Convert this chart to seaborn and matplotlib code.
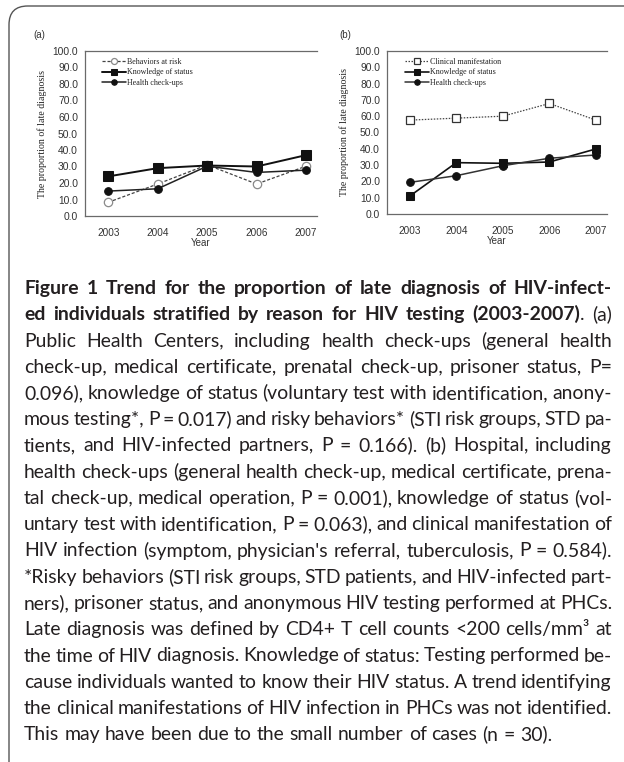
import matplotlib
matplotlib.use("Agg")
import matplotlib.pyplot as plt
import seaborn as sns
import numpy as np
import pandas as pd
from matplotlib.patches import FancyBboxPatch
from matplotlib.ticker import FixedLocator, FormatStrFormatter

# ---------------- data ----------------
years = [2003, 2004, 2005, 2006, 2007]
y_ticks = [0, 10, 20, 30, 40, 50, 60, 70, 80, 90, 100]

a_labels = ["Behaviors at risk", "Knowledge of status", "Health check-ups"]
a_behaviors = [8.3, 19.4, 31.0, 19.4, 30.2]
a_knowledge = [24.0, 29.0, 30.6, 30.0, 36.9]
a_health = [15.1, 16.5, 30.2, 26.4, 27.8]

b_labels = ["Clinical manifestation", "Knowledge of status", "Health check-ups"]
b_clinical = [57.6, 58.8, 60.0, 67.8, 57.6]
b_knowledge = [11.0, 31.5, 31.1, 31.9, 39.9]
b_health = [19.4, 23.5, 29.6, 34.2, 36.2]

y_label = "The proportion of late diagnosis"
x_label = "Year"

caption_lines = [
    [("Figure 1 Trend for the proportion of late diagnosis of HIV-infect-", "bold")],
    [("ed individuals stratified by reason for HIV testing (2003-2007)", "bold"), (". (a)", "normal")],
    [("Public Health Centers, including health check-ups (general health", "normal")],
    [("check-up, medical certificate, prenatal check-up, prisoner status, P=", "normal")],
    [("0.096), knowledge of status (voluntary test with identification, anony-", "normal")],
    [("mous testing*, P = 0.017) and risky behaviors* (STI risk groups, STD pa-", "normal")],
    [("tients, and HIV-infected partners, P = 0.166). (b) Hospital, including", "normal")],
    [("health check-ups (general health check-up, medical certificate, prena-", "normal")],
    [("tal check-up, medical operation, P = 0.001), knowledge of status (vol-", "normal")],
    [("untary test with identification, P = 0.063), and clinical manifestation of", "normal")],
    [("HIV infection (symptom, physician's referral, tuberculosis, P = 0.584).", "normal")],
    [("*Risky behaviors (STI risk groups, STD patients, and HIV-infected part-", "normal")],
    [("ners), prisoner status, and anonymous HIV testing performed at PHCs.", "normal")],
    [("Late diagnosis was defined by CD4+ T cell counts <200 cells/mm\u00b3 at", "normal")],
    [("the time of HIV diagnosis. Knowledge of status: Testing performed be-", "normal")],
    [("cause individuals wanted to know their HIV status. A trend identifying", "normal")],
    [("the clinical manifestations of HIV infection in PHCs was not identified.", "normal")],
    [("This may have been due to the small number of cases (n = 30).", "normal")],
]

# ---------------- figure ----------------
sns.set_style("white")
plt.rcParams["font.family"] = ["Liberation Sans", "DejaVu Sans"]

W, H = 624, 762
fig = plt.figure(figsize=(W / 100, H / 100), dpi=100)
fig.patch.set_facecolor("white")


def fx(px):
    return px / W


def fy(py):
    return 1 - py / H


def make_axes(left, right, top, bottom):
    return fig.add_axes([fx(left), fy(bottom), (right - left) / W, (bottom - top) / H])


ax_a = make_axes(85, 317, 51, 216)
ax_b = make_axes(387, 607, 51, 214)

serif = ["Liberation Serif", "DejaVu Serif"]
dark = "#111111"


def style_axes(ax, xl):
    ax.set_xlim(*xl)
    ax.set_ylim(0, 100)
    ax.set_facecolor("white")
    for s in ["top", "left", "bottom"]:
        ax.spines[s].set_visible(True)
        ax.spines[s].set_color("#6a6a6a")
        ax.spines[s].set_linewidth(0.9)
    ax.spines["right"].set_visible(False)
    ax.yaxis.set_major_locator(FixedLocator(y_ticks))
    ax.yaxis.set_major_formatter(FormatStrFormatter("%.1f"))
    ax.set_xticks(years)
    ax.set_xticklabels([str(y) for y in years])
    ax.xaxis.set_minor_locator(FixedLocator([y + 0.5 for y in years[:-1]]))
    ax.tick_params(axis="x", which="major", length=0, labelsize=7.2, colors="#333333", pad=9)
    ax.tick_params(axis="x", which="minor", length=3.5, direction="in", color="#6a6a6a", width=0.8)
    ax.tick_params(axis="y", which="major", length=3, direction="out", color="#6a6a6a",
                   width=0.8, labelsize=7.4, colors="#333333", pad=2)
    ax.set_xlabel(x_label, fontsize=7, color="#333333", labelpad=0)
    ax.set_ylabel(y_label, fontsize=7.1, family=serif, color="#222222", labelpad=4)
    ax.grid(False)


# panel (a)
sns.lineplot(x=years, y=a_behaviors, ax=ax_a, color="#444444", linestyle=(0, (2.5, 1.5)),
             linewidth=0.9, marker="o", markersize=6, markerfacecolor="white",
             markeredgecolor="#8a8a8a", markeredgewidth=0.9, label=a_labels[0])
sns.lineplot(x=years, y=a_knowledge, ax=ax_a, color=dark, linewidth=1.4, marker="s",
             markersize=6.5, markerfacecolor=dark, markeredgecolor=dark, label=a_labels[1])
sns.lineplot(x=years, y=a_health, ax=ax_a, color="#222222", linewidth=1.1, marker="o",
             markersize=5.5, markerfacecolor=dark, markeredgecolor=dark, label=a_labels[2])

# panel (b)
sns.lineplot(x=years, y=b_clinical, ax=ax_b, color="#444444", linestyle=(0, (1.2, 1.2)),
             linewidth=0.9, marker="s", markersize=5.5, markerfacecolor="white",
             markeredgecolor="#333333", markeredgewidth=0.9, label=b_labels[0])
sns.lineplot(x=years, y=b_knowledge, ax=ax_b, color=dark, linewidth=1.2, marker="s",
             markersize=5.5, markerfacecolor=dark, markeredgecolor=dark, label=b_labels[1])
sns.lineplot(x=years, y=b_health, ax=ax_b, color="#333333", linewidth=1.1, marker="o",
             markersize=5.5, markerfacecolor=dark, markeredgecolor=dark, label=b_labels[2])

style_axes(ax_a, (2003 - 0.47, 2007 + 0.22))
style_axes(ax_b, (2003 - 0.49, 2007 + 0.24))

for ax, lx, top, w, h in [(ax_a, 102, 58, 232, 165), (ax_b, 405, 58, 220, 163)]:
    left = 85 if ax is ax_a else 387
    axtop = 51
    leg = ax.legend(loc="upper left",
                    bbox_to_anchor=((lx - left) / w, 1 - (top - axtop) / h),
                    frameon=False, prop={"family": serif, "size": 5.8},
                    handlelength=3.0, handletextpad=0.15, labelspacing=0.3,
                    borderpad=0, borderaxespad=0, markerscale=0.72)
    for t in leg.get_texts():
        t.set_color("#222222")

# panel labels
fig.text(fx(33), fy(38), "(a)", fontsize=7, color="#333333", ha="left", va="baseline")
fig.text(fx(339), fy(38), "(b)", fontsize=7, color="#333333", ha="left", va="baseline")

# ---------------- border ----------------
border = FancyBboxPatch((fx(9), fy(790)), fx(700), (790 - 6) / H,
                        boxstyle="round,pad=0,rounding_size=0.03",
                        transform=fig.transFigure, fill=False,
                        edgecolor="#555555", linewidth=1.0, mutation_aspect=W / H)
fig.patches.append(border)

# ---------------- caption (justified) ----------------
renderer = fig.canvas.get_renderer()
cap_family = ["Lato", "DejaVu Sans"]
cap_color = "#231f20"
x_left, x_right = 24, 612
first_base, step = 294, 26.25
last_line_end = 529


def text_width(s, weight, size):
    t = fig.text(0, 0, s, fontsize=size, family=cap_family, fontweight=weight)
    w = t.get_window_extent(renderer).width
    t.remove()
    return w


def split_words(segs):
    words = []
    for j, (s, wt) in enumerate(segs):
        parts = s.split(" ")
        for k, p in enumerate(parts):
            if p == "":
                continue
            if k == 0 and j > 0 and words:
                words[-1].append((p, wt))
            else:
                words.append([(p, wt)])
    return words


def natural(words, size):
    sp = text_width("x x", "normal", size) - text_width("xx", "normal", size)
    ws = [sum(text_width(p, wt, size) for p, wt in w) for w in words]
    return ws, sp


# calibrate font size on line lengths
ref = 12.0
ratios = []
all_words = [split_words(s) for s in caption_lines]
for i, words in enumerate(all_words):
    ws, sp = natural(words, ref)
    nat = sum(ws) + sp * (len(words) - 1)
    target = (last_line_end - x_left) if i == len(all_words) - 1 else (x_right - x_left)
    ratios.append(target / nat)
cap_size = ref * float(np.median(ratios))

for i, words in enumerate(all_words):
    y = first_base + i * step
    size = cap_size
    last = i == len(all_words) - 1
    ws, sp = natural(words, size)
    if not last:
        # shrink line if it cannot fit with a modest minimum gap
        for _ in range(6):
            need = sum(ws) + 0.6 * sp * (len(words) - 1)
            if need <= (x_right - x_left):
                break
            size *= (x_right - x_left) / need
            ws, sp = natural(words, size)
        gap = (x_right - x_left - sum(ws)) / (len(words) - 1)
    else:
        gap = sp
    x = x_left
    for w, wd in zip(words, ws):
        xx = x
        for p, wt in w:
            fig.text(fx(xx), fy(y), p, fontsize=size, family=cap_family,
                     fontweight=wt, color=cap_color, ha="left", va="baseline")
            xx += text_width(p, wt, size)
        x += wd + gap

fig.savefig("out.png", dpi=100, facecolor="white")
